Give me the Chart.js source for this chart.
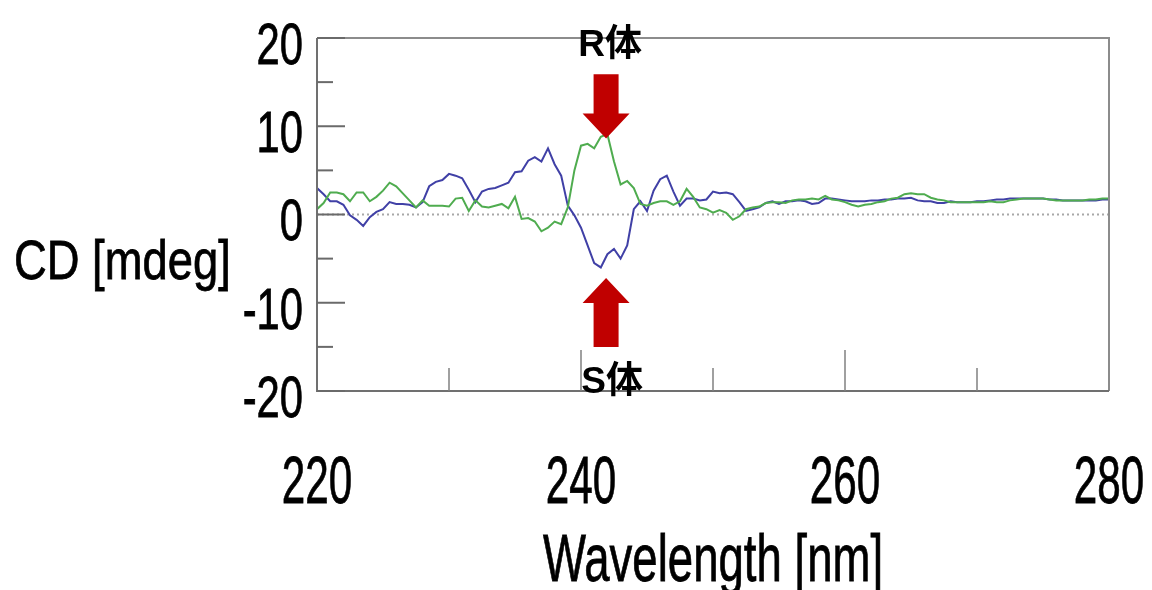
<!DOCTYPE html>
<html>
<head>
<meta charset="utf-8">
<script src="https://cdn.jsdelivr.net/npm/chart.js@4.4.1/dist/chart.umd.min.js"></script>
<style>
  html, body { margin: 0; padding: 0; background: #fff; }
  #wrap { width: 1152px; height: 590px; }
</style>
</head>
<body>
<div id="wrap"><canvas id="cd" width="1152" height="590"></canvas></div>
<script>
// wavelength in nm, 0.5 nm steps
const wavelengths = [
  220, 220.5, 221, 221.5, 222, 222.5, 223, 223.5, 224, 224.5,
  225, 225.5, 226, 226.5, 227, 227.5, 228, 228.5, 229, 229.5,
  230, 230.5, 231, 231.5, 232, 232.5, 233, 233.5, 234, 234.5,
  235, 235.5, 236, 236.5, 237, 237.5, 238, 238.5, 239, 239.5,
  240, 240.5, 241, 241.5, 242, 242.5, 243, 243.5, 244, 244.5,
  245, 245.5, 246, 246.5, 247, 247.5, 248, 248.5, 249, 249.5,
  250, 250.5, 251, 251.5, 252, 252.5, 253, 253.5, 254, 254.5,
  255, 255.5, 256, 256.5, 257, 257.5, 258, 258.5, 259, 259.5,
  260, 260.5, 261, 261.5, 262, 262.5, 263, 263.5, 264, 264.5,
  265, 265.5, 266, 266.5, 267, 267.5, 268, 268.5, 269, 269.5,
  270, 270.5, 271, 271.5, 272, 272.5, 273, 273.5, 274, 274.5,
  275, 275.5, 276, 276.5, 277, 277.5, 278, 278.5, 279, 279.5,
  280
];

// R体 (green trace), mdeg
const rForm = [
  0.6, 1.3, 2.5, 2.5, 2.3, 1.5, 2.5, 2.5, 1.5, 2.0,
  2.7, 3.6, 3.2, 2.4, 1.6, 0.8, 1.6, 1.0, 1.0, 1.0,
  0.9, 1.8, 1.9, 0.4, 1.6, 0.9, 0.8, 1.0, 1.2, 0.7,
  2.0, -0.5, -0.4, -0.8, -1.9, -1.5, -0.8, -1.1, 0.8, 5.0,
  7.8, 8.0, 7.5, 8.8, 9.1, 6.0, 3.4, 3.8, 3.0, 1.2,
  1.0, 1.3, 1.5, 1.5, 1.1, 1.5, 2.9, 2.0, 0.8, 0.6,
  0.2, 0.5, 0.2, -0.6, -0.2, 0.6, 0.8, 0.9, 1.3, 1.4,
  1.4, 1.3, 1.6, 1.7, 1.7, 1.8, 1.7, 2.1, 1.7, 1.6,
  1.4, 1.1, 0.9, 1.1, 1.2, 1.4, 1.5, 1.8, 1.9, 2.3,
  2.4, 2.3, 2.3, 1.9, 1.7, 1.6, 1.4, 1.4, 1.4, 1.4,
  1.4, 1.4, 1.5, 1.4, 1.4, 1.6, 1.7, 1.8, 1.8, 1.8,
  1.8, 1.7, 1.6, 1.6, 1.6, 1.6, 1.6, 1.7, 1.7, 1.8,
  1.8
];

// S体 (blue trace), mdeg
const sForm = [
  3.0, 2.3, 1.5, 1.5, 1.1, -0.1, -0.6, -1.3, -0.3, 0.3,
  0.6, 1.4, 1.2, 1.2, 1.1, 0.8, 1.4, 3.2, 3.7, 3.9,
  4.6, 4.4, 4.1, 2.8, 1.4, 2.6, 2.9, 3.0, 3.3, 3.6,
  4.8, 4.9, 6.1, 6.5, 6.0, 7.5, 5.7, 4.4, 1.0, -0.1,
  -1.5, -3.5, -5.5, -6.0, -4.5, -3.9, -5.0, -3.5, 0.6, 1.5,
  0.4, 2.7, 4.0, 4.4, 2.6, 1.0, 1.8, 1.8, 1.6, 1.7,
  2.6, 2.4, 2.5, 2.3, 1.4, 0.4, 0.6, 0.8, 1.3, 1.5,
  1.2, 1.5, 1.5, 1.6, 1.5, 1.2, 1.3, 1.8, 1.8, 1.7,
  1.6, 1.5, 1.5, 1.5, 1.6, 1.6, 1.7, 1.7, 1.8, 1.8,
  1.9, 1.6, 1.5, 1.5, 1.3, 1.3, 1.5, 1.4, 1.4, 1.4,
  1.5, 1.5, 1.6, 1.7, 1.7, 1.8, 1.8, 1.8, 1.8, 1.8,
  1.8, 1.7, 1.7, 1.6, 1.6, 1.6, 1.6, 1.6, 1.6, 1.7,
  1.7
];

const xTickLabels = [220, 240, 260, 280];
const xMinorTicks = [230, 250, 270];
const xMajorTicks = [240, 260];
const yTickLabels = [20, 10, 0, -10, -20];
const yMinorTicks = [15, 5, -5, -15];

const xTitle = "Wavelength [nm]";
const yTitle = "CD [mdeg]";
const rLabel = "R体";
const sLabel = "S体";

// where the arrows point (nm / mdeg)
const arrowAt = 241.9;
const rArrow = [15.9, 8.6];
const sArrow = [-15.0, -7.2];

const canvas = document.getElementById("cd");
const ctx = canvas.getContext("2d");

const FONT = "'Liberation Sans', Arial, sans-serif";

function squeezed(c, text, x, y, size, sx, align) {
  c.save();
  c.translate(x, y);
  c.scale(sx, 1);
  c.font = size + "px " + FONT;
  c.textAlign = align;
  c.textBaseline = "alphabetic";
  c.fillStyle = "#000";
  c.strokeStyle = "#000";
  c.lineWidth = 0.8;
  c.fillText(text, 0, 0);
  c.strokeText(text, 0, 0);
  c.restore();
}

function arrow(c, xp, yFrom, yTip) {
  const dir = yTip > yFrom ? 1 : -1;
  const headLen = 25, shaftW = 25, headW = 47;
  const yBase = yTip - dir * headLen;
  c.beginPath();
  c.moveTo(xp - shaftW / 2, yFrom);
  c.lineTo(xp + shaftW / 2, yFrom);
  c.lineTo(xp + shaftW / 2, yBase);
  c.lineTo(xp + headW / 2, yBase);
  c.lineTo(xp, yTip);
  c.lineTo(xp - headW / 2, yBase);
  c.lineTo(xp - shaftW / 2, yBase);
  c.closePath();
  c.fillStyle = "#c00000";
  c.fill();
}

const decorations = {
  id: "decorations",
  beforeDatasetsDraw(chart) {
    const { ctx: c, chartArea: a, scales: { y } } = chart;
    const y0 = y.getPixelForValue(0);
    c.save();
    c.strokeStyle = "#a8a8a8";
    c.lineWidth = 2;
    c.setLineDash([2, 3]);
    c.beginPath();
    c.moveTo(a.left, y0);
    c.lineTo(a.right, y0);
    c.stroke();
    c.restore();
  },
  afterDatasetsDraw(chart) {
    const { ctx: c, chartArea: a, scales: { x, y } } = chart;
    c.save();

    // frame
    c.strokeStyle = "#8c8c8c";
    c.lineWidth = 2;
    c.beginPath();
    c.moveTo(a.left, a.top);
    c.lineTo(a.right, a.top);
    c.lineTo(a.right, a.bottom);
    c.stroke();
    c.strokeStyle = "#707070";
    c.beginPath();
    c.moveTo(a.left, a.top);
    c.lineTo(a.left, a.bottom);
    c.lineTo(a.right, a.bottom);
    c.stroke();

    // inner ticks
    c.strokeStyle = "#6a6a6a";
    c.lineWidth = 2;
    yTickLabels.forEach(v => {
      const p = y.getPixelForValue(v);
      c.beginPath(); c.moveTo(a.left, p); c.lineTo(a.left + 28, p); c.stroke();
    });
    yMinorTicks.forEach(v => {
      const p = y.getPixelForValue(v);
      c.beginPath(); c.moveTo(a.left, p); c.lineTo(a.left + 16, p); c.stroke();
    });
    c.lineWidth = 1.5;
    c.strokeStyle = "#808080";
    xMinorTicks.forEach(v => {
      const p = x.getPixelForValue(v);
      c.beginPath(); c.moveTo(p, a.bottom); c.lineTo(p, a.bottom - 23); c.stroke();
    });
    xMajorTicks.forEach(v => {
      const p = x.getPixelForValue(v);
      c.beginPath(); c.moveTo(p, a.bottom); c.lineTo(p, a.bottom - 41); c.stroke();
    });

    // tick labels
    yTickLabels.forEach(v => {
      const p = y.getPixelForValue(v);
      squeezed(c, String(v), a.left - 14, p + 5 + 0.358 * 58, 58, 0.72, "right");
    });
    xTickLabels.forEach(v => {
      const p = x.getPixelForValue(v);
      squeezed(c, String(v), p, a.bottom + 112, 67, 0.63, "center");
    });

    // axis titles
    squeezed(c, yTitle, 14, 279, 56, 0.81, "left");
    squeezed(c, xTitle, (a.left + a.right) / 2, 581, 67, 0.68, "center");

    // arrows + labels
    const ax = x.getPixelForValue(arrowAt);
    arrow(c, ax, y.getPixelForValue(rArrow[0]), y.getPixelForValue(rArrow[1]));
    arrow(c, ax, y.getPixelForValue(sArrow[0]), y.getPixelForValue(sArrow[1]));

    c.font = "bold 37px 'Liberation Sans', 'Noto Sans CJK JP', sans-serif";
    c.fillStyle = "#000";
    c.textAlign = "center";
    c.textBaseline = "middle";
    c.fillText(rLabel, ax + 4, a.top + 8);
    c.fillText(sLabel, ax + 6, a.bottom - 8);

    c.restore();
  }
};

new Chart(ctx, {
  type: "line",
  data: {
    datasets: [
      {
        label: "R体",
        data: wavelengths.map((w, i) => ({ x: w, y: rForm[i] })),
        borderColor: "#4fac4f",
        borderWidth: 2,
        pointRadius: 0,
        tension: 0,
      },
      {
        label: "S体",
        data: wavelengths.map((w, i) => ({ x: w, y: sForm[i] })),
        borderColor: "#4040a6",
        borderWidth: 2,
        pointRadius: 0,
        tension: 0,
      },
    ],
  },
  options: {
    responsive: false,
    animation: false,
    layout: {
      padding: { top: 38, right: 43, left: 0, bottom: 0 },
    },
    plugins: {
      legend: { display: false },
      tooltip: { enabled: false },
    },
    scales: {
      x: {
        type: "linear",
        min: 220,
        max: 280,
        ticks: { display: false },
        grid: { display: false },
        border: { display: false },
        afterFit: s => { s.height = 199; },
      },
      y: {
        min: -20,
        max: 20,
        ticks: { display: false, stepSize: 5 },
        grid: { display: false },
        border: { display: false },
        afterFit: s => { s.width = 317; },
      },
    },
  },
  plugins: [decorations],
});
</script>
</body>
</html>
